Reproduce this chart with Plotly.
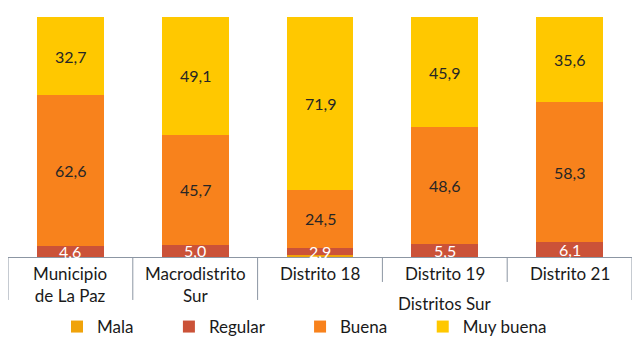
import plotly.graph_objects as go

categories = ["Municipio<br>de La Paz", "Macrodistrito<br>Sur", "Distrito 18", "Distrito 19", "Distrito 21"]
group_label = "Distritos Sur"
mala = [0.1, 0.2, 0.7, 0.0, 0.0]
regular = [4.6, 5.0, 2.9, 5.5, 6.1]
buena = [62.6, 45.7, 24.5, 48.6, 58.3]
muy_buena = [32.7, 49.1, 71.9, 45.9, 35.6]

series = [
    ("Mala", mala, "#F0A30A", None),
    ("Regular", regular, "#CB5238", "white"),
    ("Buena", buena, "#F8821C", "#262626"),
    ("Muy buena", muy_buena, "#FFC800", "#262626"),
]

FONT = "Lato"
PAD = "\u00a0" * 7
x = list(range(len(categories)))
fig = go.Figure()
base = [0.0] * len(x)
annotations = []
for name, vals, color, tcol in series:
    fig.add_trace(go.Bar(x=x, y=vals, name=name + PAD, marker=dict(color=color, line=dict(width=0)),
                         width=0.535, hoverinfo="skip"))
    if tcol:
        for i, v in enumerate(vals):
            annotations.append(dict(x=i, y=base[i] + v / 2, xref="x", yref="y",
                                    text=f"{v:.1f}".replace(".", ","), showarrow=False,
                                    font=dict(family=FONT, size=16, color=tcol)))
    base = [b + v for b, v in zip(base, vals)]

# category labels
for i, c in enumerate(categories):
    annotations.append(dict(x=i, y=-0.015, xref="x", yref="paper", text=c, showarrow=False,
                            yanchor="top", font=dict(family=FONT, size=17, color="#1a1a1a")))
annotations.append(dict(x=3, y=-0.143, xref="x", yref="paper", text=group_label, showarrow=False,
                        yanchor="top", font=dict(family=FONT, size=17, color="#1a1a1a")))

shapes = []
for xb, ybot in [(-0.5, -0.179), (0.5, -0.179), (1.5, -0.179), (2.5, -0.104), (3.5, -0.104), (4.5, -0.179)]:
    shapes.append(dict(type="line", xref="x", yref="paper", x0=xb, x1=xb, y0=0, y1=ybot,
                       line=dict(color="#8C96A3", width=1)))

# page body has an 8px margin; figure is sized to fit the 641x358 window
W, H = 633, 350
fig.update_layout(
    barmode="stack",
    width=W, height=H,
    margin=dict(l=0, r=9, t=9, b=101),
    plot_bgcolor="white", paper_bgcolor="white",
    xaxis=dict(range=[-0.5, 4.5], showticklabels=False, showgrid=False, zeroline=False,
               showline=True, linecolor="#8C96A3", linewidth=1, ticks=""),
    yaxis=dict(range=[0, 100], visible=False),
    showlegend=True,
    legend=dict(orientation="h", xref="container", yref="container",
                x=49 / W, xanchor="left", y=1 - 319 / H, yanchor="middle",
                font=dict(family=FONT, size=17, color="#1a1a1a"),
                traceorder="normal"),
    annotations=annotations,
    shapes=shapes,
)

fig.write_html("out.html")
